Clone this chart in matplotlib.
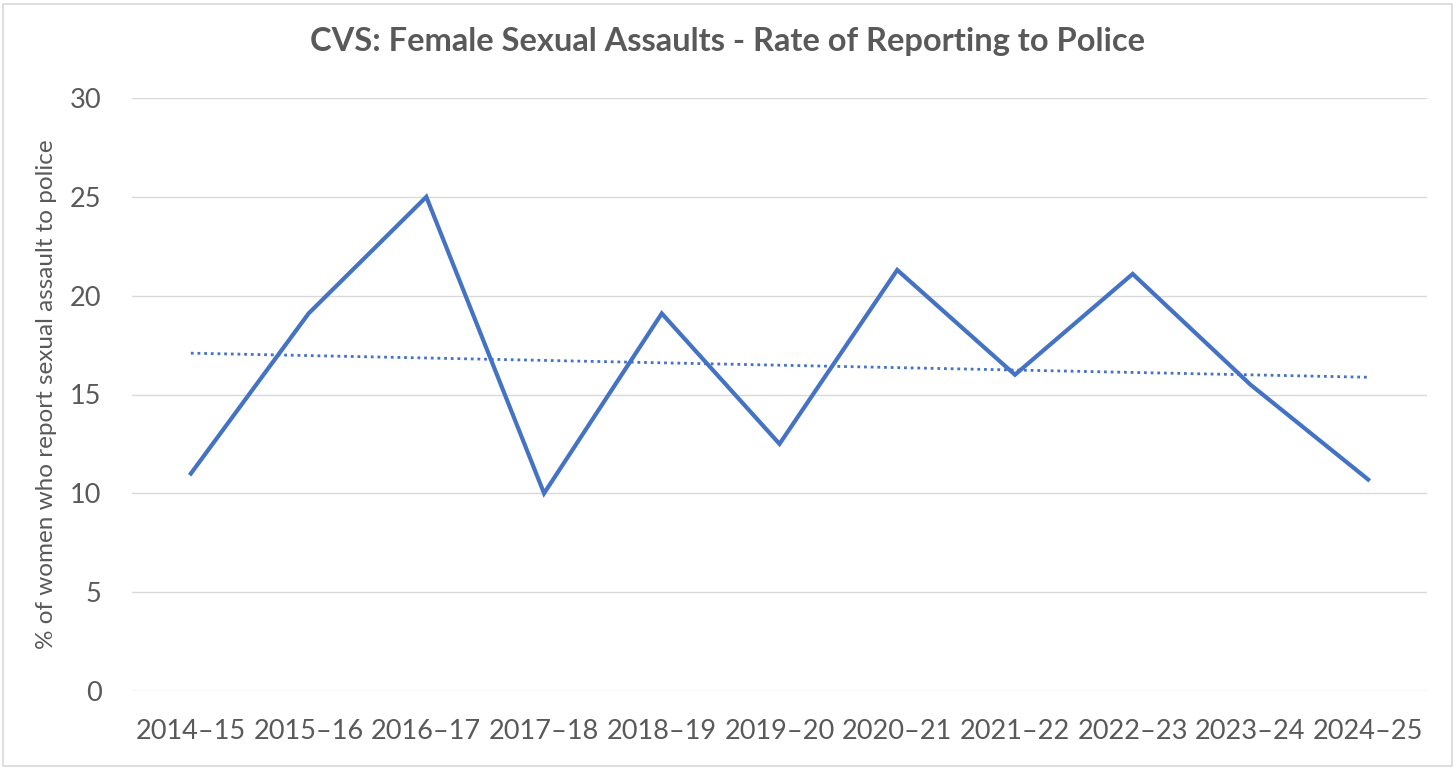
import matplotlib
matplotlib.use("Agg")
import matplotlib.pyplot as plt
import numpy as np
from matplotlib.patches import Rectangle

# data
years = ["2014–15", "2015–16", "2016–17", "2017–18", "2018–19", "2019–20",
         "2020–21", "2021–22", "2022–23", "2023–24", "2024–25"]
report_rate = [11.0, 19.1, 25.0, 10.0, 19.1, 12.5, 21.3, 16.0, 21.1, 15.5, 10.7]

blue = "#4472C4"
grey_text = "#595959"

plt.rcParams['font.family'] = ['Lato', 'DejaVu Sans']

fig = plt.figure(figsize=(14.56, 7.69), dpi=100)
ax = fig.add_axes([132 / 1456, 1 - 691 / 769, (1427 - 132) / 1456, (691 - 98) / 769])

x = np.arange(len(years))
ax.plot(x, report_rate, color=blue, lw=3.0, solid_joinstyle='miter', zorder=3)

# linear trendline like excel's
k, b = np.polyfit(x, report_rate, 1)
ax.plot(x, k * x + b, color=blue, lw=2.0, linestyle=(0, (1, 1.4)), zorder=2)

ax.set_xlim(-0.5, len(years) - 0.5)
ax.set_ylim(0, 30)
ax.set_yticks(range(0, 31, 5))
ax.set_xticks(x)
ax.set_xticklabels(years)
ax.grid(axis='y', color="#D9D9D9", lw=1)
ax.set_axisbelow(True)
for s in ax.spines.values():
    s.set_visible(False)
ax.tick_params(length=0, labelsize=19.5, labelcolor=grey_text)
ax.tick_params(axis='y', pad=22)
ax.tick_params(axis='x', pad=20)

ax.set_ylabel("% of women who report sexual assault to police", fontsize=17.5,
              color=grey_text)
ax.yaxis.set_label_coords(-0.058, 0.5)

fig.text(0.5, 1 - 42 / 769, "CVS: Female Sexual Assaults - Rate of Reporting to Police",
         ha='center', va='center', fontsize=23.5, fontweight='bold', color=grey_text)

# outer frame
fig.patches.append(Rectangle((3 / 1456, 3 / 769), 1449 / 1456, 762 / 769,
                             transform=fig.transFigure, fill=False,
                             edgecolor="#D9D9D9", lw=1.2))

fig.savefig("out.png", dpi=100)
